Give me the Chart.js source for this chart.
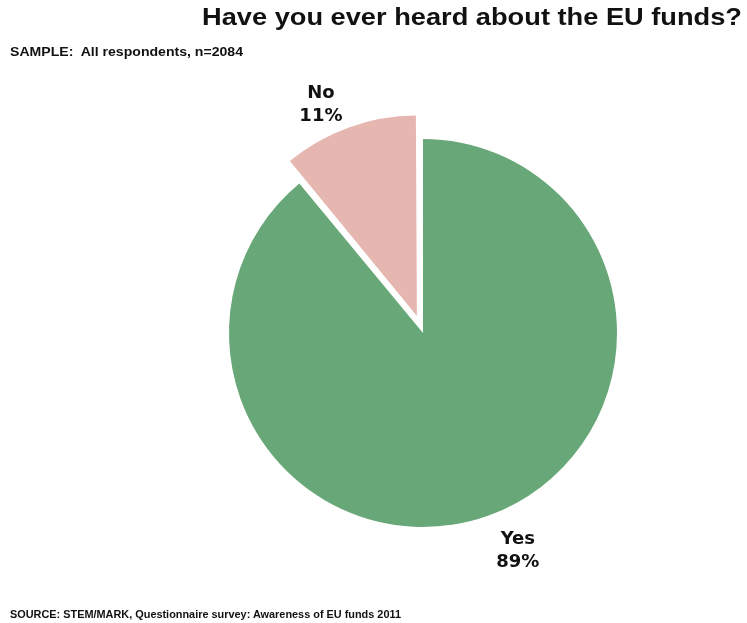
<!DOCTYPE html>
<html>
<head>
<meta charset="utf-8">
<script src="https://cdn.jsdelivr.net/npm/chart.js@4"></script>
<style>
  html, body { margin: 0; padding: 0; background: #fff; }
  #wrap { position: relative; width: 747px; height: 623px; overflow: hidden; }
  .t { position: absolute; white-space: nowrap; color: #111; transform-origin: 0 0; }
  #title { left: 202px; top: 4px; font: bold 23px "Liberation Sans", Arial, sans-serif; }
  #sample { left: 10px; top: 45px; font: bold 12px "Liberation Sans", Arial, sans-serif; }
  #source { left: 10px; top: 608px; font: bold 11px "Liberation Sans", Arial, sans-serif; }
  #c { position: absolute; left: 0; top: 0; }
</style>
</head>
<body>
<div id="wrap">
  <canvas id="c" width="747" height="623"></canvas>
  <div class="t" id="title" data-w="540">Have you ever heard about the EU funds?</div>
  <div class="t" id="sample" data-w="233">SAMPLE:&nbsp; All respondents, n=2084</div>
  <div class="t" id="source" data-w="391">SOURCE: STEM/MARK, Questionnaire survey: Awareness of EU funds 2011</div>
</div>
<script>
const categories = ["Yes", "No"];
const values = [89, 11];
const colors = ["#68A777", "#E6B6B0"];
const explode = [0, 18];

document.querySelectorAll('.t').forEach(el => {
  const w = el.getBoundingClientRect().width;
  const target = +el.dataset.w;
  el.style.transform = 'scaleX(' + (target / w) + ')';
});

const labelPlugin = {
  id: 'sliceLabels',
  afterDatasetsDraw(chart) {
    const ctx = chart.ctx;
    const meta = chart.getDatasetMeta(0);
    ctx.save();
    ctx.font = 'bold 18px "DejaVu Sans", sans-serif';
    ctx.fillStyle = '#111';
    ctx.textAlign = 'center';
    ctx.textBaseline = 'middle';
    meta.data.forEach((arc, i) => {
      const p = arc.getProps(['x', 'y', 'startAngle', 'endAngle', 'outerRadius'], true);
      const mid = (p.startAngle + p.endAngle) / 2 - 4 * Math.PI / 180;
      const r = p.outerRadius + 41 + explode[i];
      const lx = p.x + Math.cos(mid) * r;
      const ly = p.y + Math.sin(mid) * r + 3;
      ctx.fillText(categories[i], lx, ly - 11.5);
      ctx.fillText(values[i] + '%', lx, ly + 11.5);
    });
    ctx.restore();
  }
};

new Chart(document.getElementById('c'), {
  type: 'pie',
  data: {
    labels: categories,
    datasets: [{
      data: values,
      backgroundColor: colors,
      borderWidth: 0,
      offset: explode.map(v => v * 4)
    }]
  },
  options: {
    responsive: false,
    animation: false,
    radius: 194,
    rotation: 0,
    layout: { padding: { left: 99, top: 43, right: 0, bottom: 0 } },
    plugins: {
      legend: { display: false },
      tooltip: { enabled: false }
    }
  },
  plugins: [labelPlugin]
});
</script>
</body>
</html>
